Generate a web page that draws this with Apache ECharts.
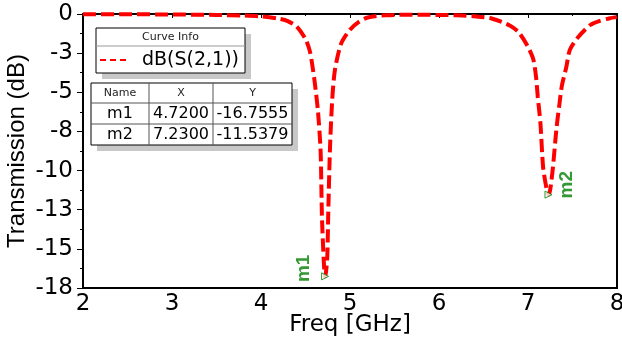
<!DOCTYPE html>
<html>
<head>
<meta charset="utf-8">
<script src="https://cdn.jsdelivr.net/npm/echarts@6/dist/echarts.min.js"></script>
<style>
html, body { margin: 0; padding: 0; background: #fff; }
#chart { width: 622px; height: 342px; }
</style>
</head>
<body>
<div id="chart"></div>
<script>
// S21 curve
var freq = [2.0, 2.5, 3.0, 3.5, 3.8, 4.0, 4.2, 4.3, 4.4, 4.5, 4.55, 4.6, 4.64, 4.67, 4.685, 4.71, 4.72,
            4.73, 4.745, 4.755, 4.775, 4.8, 4.83, 4.9, 5.0, 5.1, 5.2, 5.4, 5.6, 5.8, 6.0, 6.2, 6.4, 6.6,
            6.8, 6.9, 7.0, 7.06, 7.09, 7.11, 7.14, 7.17, 7.21, 7.23, 7.25, 7.28, 7.32, 7.35, 7.38, 7.43,
            7.47, 7.56, 7.7, 7.8, 7.92, 8.0];
var s21 = [-0.02, -0.02, -0.03, -0.06, -0.1, -0.15, -0.3, -0.45, -0.8, -1.6, -2.4, -4.2, -6.2, -8.8, -13.0, -16.3, -16.7555,
           -16.5, -15.5, -12.9, -8.6, -5.5, -3.6, -1.9, -1.0, -0.5, -0.22, -0.08, -0.05, -0.05, -0.06, -0.08, -0.15, -0.3,
           -0.75, -1.2, -2.1, -2.9, -4.0, -5.3, -7.0, -9.8, -11.2, -11.5379, -11.2, -9.8, -7.3, -5.9, -4.6, -3.4,
           -2.3, -1.5, -0.7, -0.45, -0.27, -0.2];

var markerNames = ['m1', 'm2'];
var markerX = [4.72, 7.23];
var markerY = [-16.7555, -11.5379];

var curveName = 'dB(S(2,1))';

var chart = echarts.init(document.getElementById('chart'));

var hFont = 'DejaVu Sans';
var vFont = 'Liberation Sans';

// marker table (drawn as graphic, values from the arrays above)
var tbl = { x: 91, y: 83, w: 201, colX: [149, 213], rowY: [103, 124], rowH: 21 };
var tableChildren = [
    { type: 'rect', shape: { x: tbl.x + 6, y: tbl.y + 6, width: tbl.w, height: 62 }, style: { fill: '#c8c8c8' } },
    { type: 'rect', shape: { x: tbl.x, y: tbl.y, width: tbl.w, height: 62 }, style: { fill: '#fff', stroke: '#000', lineWidth: 1 } },
    { type: 'line', shape: { x1: tbl.colX[0], y1: tbl.y, x2: tbl.colX[0], y2: tbl.y + 62 }, style: { stroke: '#555', lineWidth: 1 } },
    { type: 'line', shape: { x1: tbl.colX[1], y1: tbl.y, x2: tbl.colX[1], y2: tbl.y + 62 }, style: { stroke: '#555', lineWidth: 1 } },
    { type: 'line', shape: { x1: tbl.x, y1: tbl.rowY[0], x2: tbl.x + tbl.w, y2: tbl.rowY[0] }, style: { stroke: '#555', lineWidth: 1 } },
    { type: 'line', shape: { x1: tbl.x, y1: tbl.rowY[1], x2: tbl.x + tbl.w, y2: tbl.rowY[1] }, style: { stroke: '#555', lineWidth: 1 } }
];
var colCenters = [120, 181, 252.5];
['Name', 'X', 'Y'].forEach(function (h, i) {
    tableChildren.push({ type: 'text', x: colCenters[i], y: 93.5,
        style: { text: h, font: '11px ' + hFont, fill: '#222', align: 'center', verticalAlign: 'middle' } });
});
markerNames.forEach(function (n, r) {
    var cy = 114 + r * 21;
    [n, markerX[r].toFixed(4), markerY[r].toFixed(4)].forEach(function (t, i) {
        tableChildren.push({ type: 'text', x: colCenters[i], y: cy,
            style: { text: t, font: '16px ' + hFont, fill: '#000', align: 'center', verticalAlign: 'middle' } });
    });
});

var option = {
    backgroundColor: '#fff',
    animation: false,
    grid: {
        left: 83, right: 5, top: 14, bottom: 54,
        containLabel: false, outerBoundsMode: 'none',
        show: true, borderColor: '#000', borderWidth: 2
    },
    xAxis: {
        type: 'value',
        min: 2, max: 8, interval: 1,
        name: 'Freq [GHz]',
        nameLocation: 'middle',
        nameGap: 26,
        nameMoveOverlap: false,
        nameTextStyle: { fontFamily: hFont, fontSize: 23, color: '#000' },
        axisLine: { lineStyle: { color: '#000', width: 2 } },
        axisTick: { inside: false, length: 4, lineStyle: { color: '#000' } },
        minorTick: { show: true, splitNumber: 2, length: 2, lineStyle: { color: '#000' } },
        axisLabel: { margin: 5, fontFamily: hFont, fontSize: 23, color: '#000' },
        splitLine: { show: false }
    },
    yAxis: {
        type: 'value',
        min: -17.5, max: 0, interval: 2.5,
        name: 'Transmission (dB)',
        nameLocation: 'middle',
        nameGap: 54,
        nameMoveOverlap: false,
        nameTextStyle: { fontFamily: vFont, fontSize: 24, color: '#000' },
        axisLine: { lineStyle: { color: '#000', width: 2 } },
        axisTick: { inside: false, length: 6, lineStyle: { color: '#000' } },
        minorTick: { show: true, splitNumber: 2, length: 3, lineStyle: { color: '#000' } },
        axisLabel: {
            margin: 10, fontFamily: hFont, fontSize: 23, color: '#000',
            formatter: function (v) { return v.toFixed(0); }
        },
        splitLine: { show: false }
    },
    series: [
        {
            type: 'line',
            name: curveName,
            data: freq.map(function (f, i) { return [f, s21[i]]; }),
            showSymbol: false,
            smooth: 0.25,
            lineStyle: { color: '#ff0000', width: 4, type: [13, 5] },
            z: 3
        },
        {
            type: 'scatter',
            data: markerNames.map(function (n, i) {
                return {
                    name: n,
                    value: [markerX[i], markerY[i]],
                    // offset is in the rotated label frame
                    label: { offset: i === 0 ? [8, -21] : [10, 18] }
                };
            }),
            symbol: 'triangle',
            symbolRotate: -90,
            symbolSize: 7,
            itemStyle: { color: '#fff', borderColor: '#008000', borderWidth: 1 },
            label: {
                show: true,
                position: 'inside',
                rotate: 90,
                align: 'center',
                verticalAlign: 'middle',
                formatter: '{b}',
                fontFamily: vFont,
                fontWeight: 'bold',
                fontSize: 19,
                color: '#008000'
            },
            z: 4
        }
    ],
    graphic: [
        {
            type: 'group',
            children: [
                { type: 'rect', shape: { x: 102, y: 34, width: 149, height: 45 }, style: { fill: '#c8c8c8' } },
                { type: 'rect', shape: { x: 96, y: 28, width: 149, height: 45 }, style: { fill: '#fff', stroke: '#000', lineWidth: 1 } },
                { type: 'line', shape: { x1: 96, y1: 46, x2: 245, y2: 46 }, style: { stroke: '#999', lineWidth: 1 } },
                { type: 'text', x: 170.5, y: 37, style: { text: 'Curve Info', font: '11px ' + hFont, fill: '#222', align: 'center', verticalAlign: 'middle' } },
                { type: 'line', shape: { x1: 100, y1: 60, x2: 128, y2: 60 }, style: { stroke: '#ff0000', lineWidth: 2, lineDash: [6, 4] } },
                { type: 'text', x: 142, y: 60, style: { text: curveName, font: '19px ' + hFont, fill: '#000', align: 'left', verticalAlign: 'middle' } }
            ]
        },
        { type: 'group', children: tableChildren }
    ]
};

chart.setOption(option);
</script>
</body>
</html>
